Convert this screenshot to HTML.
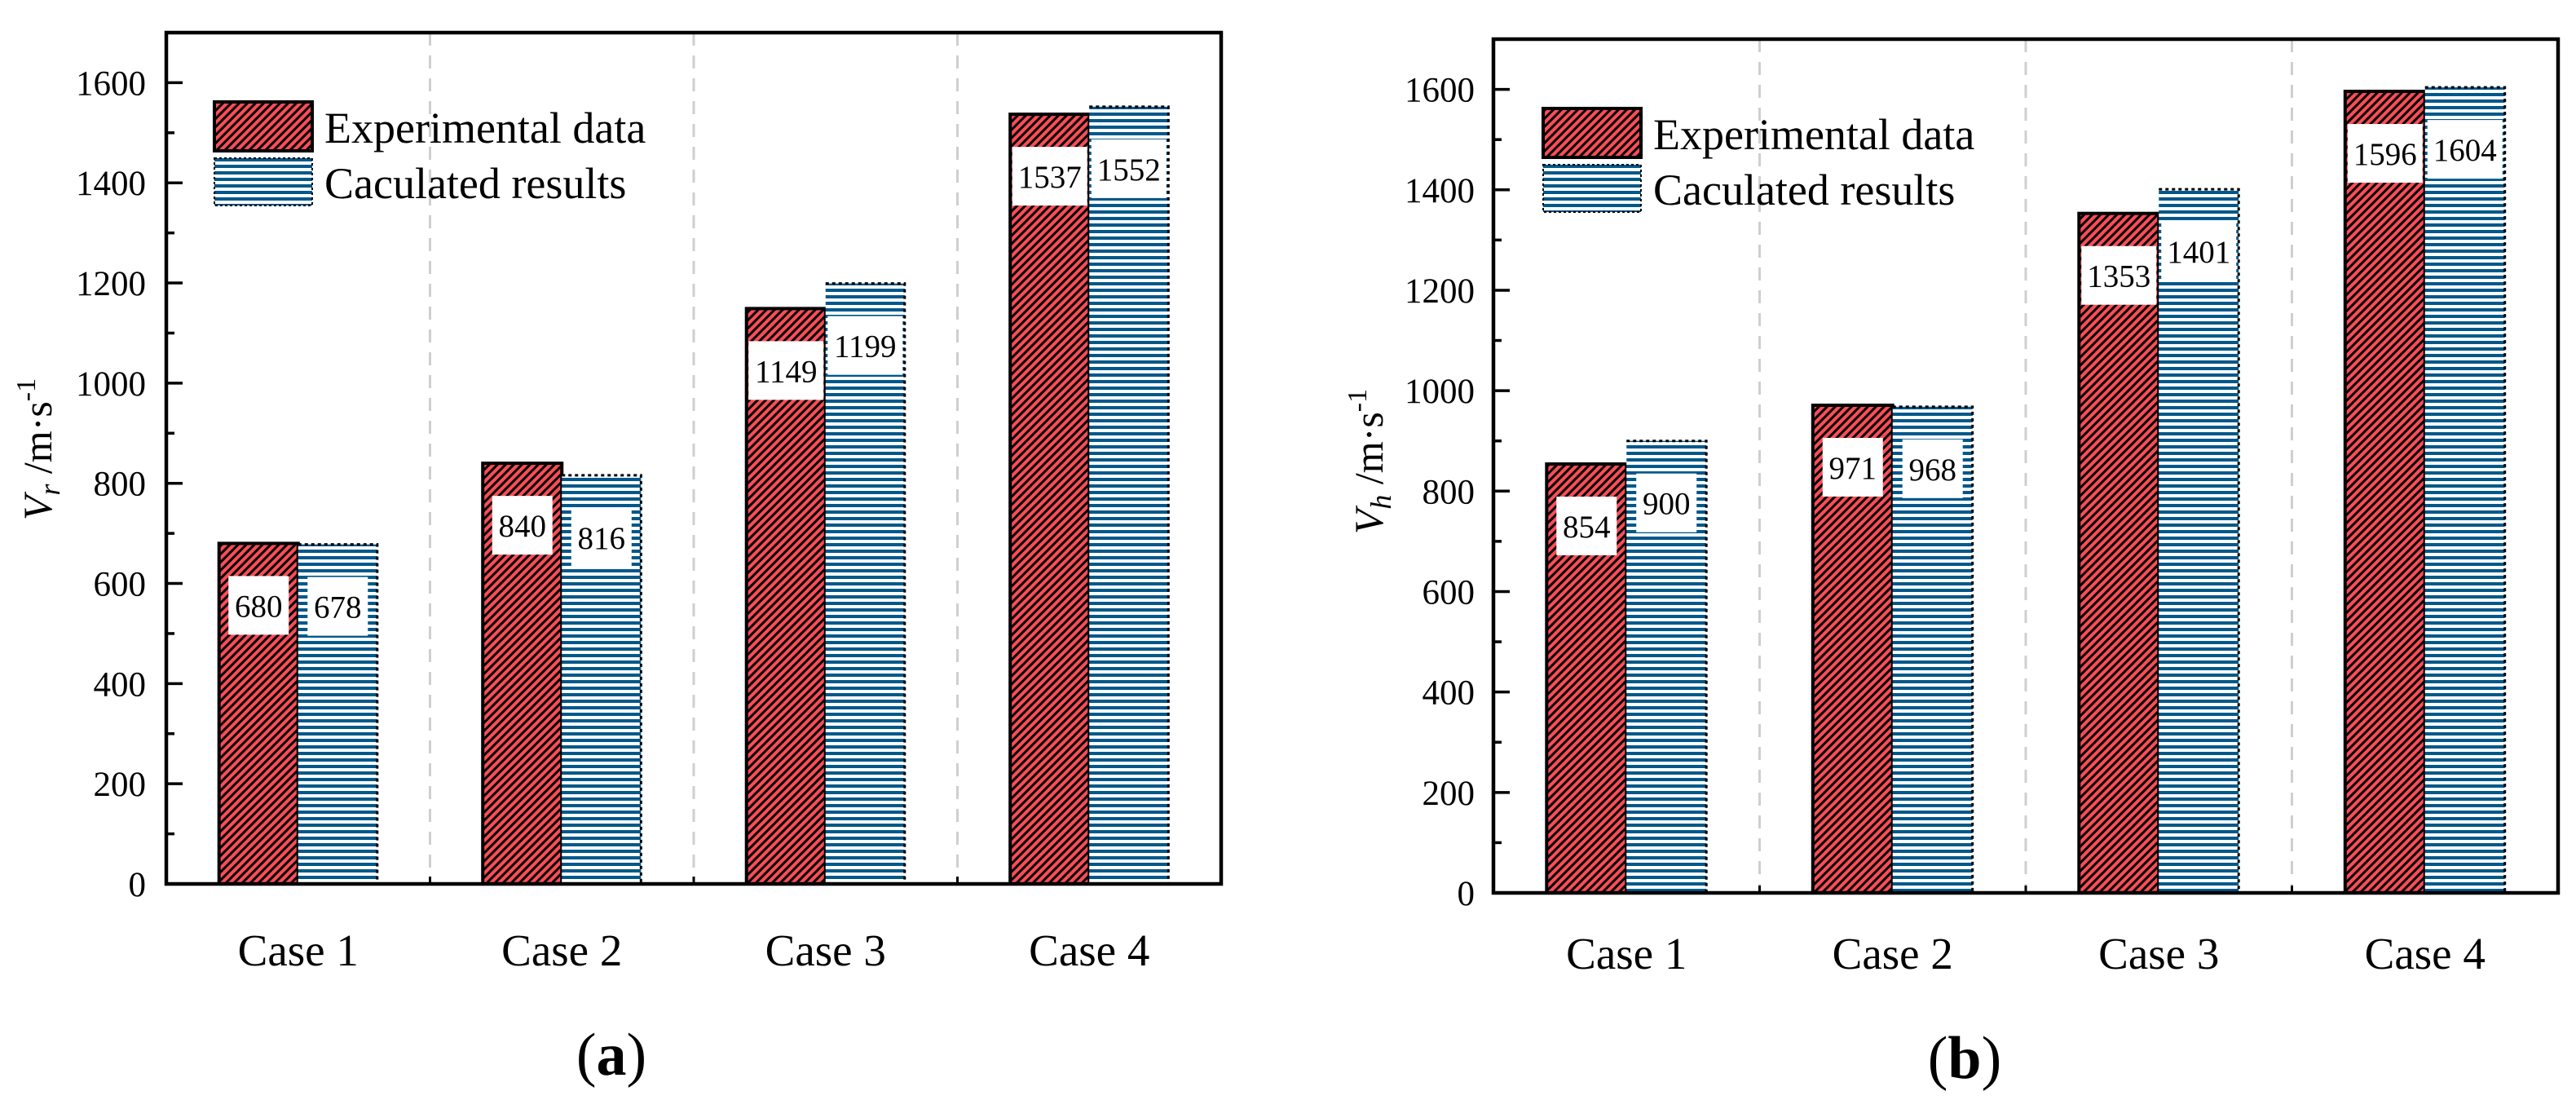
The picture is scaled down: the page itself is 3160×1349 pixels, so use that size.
<!DOCTYPE html>
<html><head><meta charset="utf-8"><style>
html,body{margin:0;padding:0;background:#fff;}
svg{display:block;font-family:"Liberation Serif",serif;}
</style></head><body>
<svg id="chart" width="3160" height="1349" viewBox="0 0 3160 1349" xmlns="http://www.w3.org/2000/svg">
<defs>
<pattern id="hatchRed" patternUnits="userSpaceOnUse" width="10" height="10">
<rect width="10" height="10" fill="#fa4d57"/>
<path d="M-2,2 L2,-2 M0,10 L10,0 M8,12 L12,8" stroke="#000" stroke-width="3"/>
</pattern>
<pattern id="stripeBlue" patternUnits="userSpaceOnUse" width="10" height="8">
<rect width="10" height="8" fill="#fff"/>
<rect y="2" width="10" height="4" fill="#00588a"/>
</pattern>
</defs>
<g id="root"></g>
</svg>
<script>
const categories = ["Case 1","Case 2","Case 3","Case 4"];
const expA = [680, 840, 1149, 1537];
const calA = [678, 816, 1199, 1552];
const expB = [854, 971, 1353, 1596];
const calB = [900, 968, 1401, 1604];
const yTicks = [0,200,400,600,800,1000,1200,1400,1600];
const yMax = 1700;

const NS = "http://www.w3.org/2000/svg";
const root = document.getElementById('root');
function mk(tag, attrs, parent){
  const e = document.createElementNS(NS, tag);
  for (const k in attrs) e.setAttribute(k, attrs[k]);
  (parent||root).appendChild(e);
  return e;
}

const panels = [
  {id:'a', x0:204, x1:1498, yTop:40, yBase:1084, exp:expA, cal:calA, sub:'r', titleX:47, titleY:551, tickRight:179, legX:263, legY:125, capY:1184, letter:'a', letterX:750, letterY:1318},
  {id:'b', x0:1832, x1:3138, yTop:48, yBase:1095, exp:expB, cal:calB, sub:'h', titleX:1680, titleY:566, tickRight:1809, legX:1893, legY:133, capY:1188, letter:'b', letterX:2410, letterY:1322}
];

panels.forEach(p => {
  const g = mk('g', {});
  
  
  const y = v => p.yBase - (v / yMax) * (p.yBase - p.yTop);
  const catW = (p.x1 - p.x0) / categories.length;
  const cx = i => p.x0 + catW * (i + 0.5);
  const barW = catW * 0.3;

  // separators
  for (let i = 1; i < categories.length; i++) {
    const sx = p.x0 + catW * i;
    const l = mk('line', {x1:sx, x2:sx, y1:p.yTop, y2:p.yBase, stroke:'#cfcfcf', 'stroke-width':3, 'stroke-dasharray':'16 12'}, g);
    
    
    const t = mk('line', {x1:sx, x2:sx, y1:p.yBase, y2:p.yBase-9, stroke:'#000', 'stroke-width':3}, g);
    
    
  }

  // bars
  categories.forEach((c, i) => {
    const ex = cx(i) - barW, ev = p.exp[i];
    const r1 = mk('rect', {x:ex, y:y(ev), width:barW, height:p.yBase - y(ev), fill:'url(#hatchRed)', stroke:'#000', 'stroke-width':4}, g);
    
    
    const cv = p.cal[i];
    const r2 = mk('rect', {x:cx(i), y:y(cv), width:barW, height:p.yBase - y(cv), fill:'url(#stripeBlue)'}, g);
    
    
    const d = mk('path', {d:`M${cx(i)},${y(cv)} H${cx(i)+barW} V${p.yBase}`, fill:'none', stroke:'#000', 'stroke-width':3, 'stroke-dasharray':'4 4'}, g);
    
    

    // value labels
    [[ex, ev], [cx(i), cv]].forEach(([bx, v], k) => {
      const s = String(v);
      const bw = s.length > 3 ? 92 : 74;
      const by = y(v) + 40;
      const lx = bx + barW/2;
      const box = mk('rect', {x:lx - bw/2, y:by, width:bw, height:72, fill:'#fff'}, g);
      
      
      const t = mk('text', {x:lx, y:by + 50, 'text-anchor':'middle', 'font-size':39, fill:'#000'}, g);
      t.textContent = s;
      
      
    });

    const ct = mk('text', {x:cx(i), y:p.capY, 'text-anchor':'middle', 'font-size':55, fill:'#000'}, g);
    ct.textContent = c;
    
    
  });

  // frame
  const fr = mk('rect', {x:p.x0, y:p.yTop, width:p.x1-p.x0, height:p.yBase-p.yTop, fill:'none', stroke:'#000', 'stroke-width':4.5}, g);
  
  

  // y ticks
  yTicks.forEach(v => {
    const tl = mk('line', {x1:p.x0, x2:p.x0+20, y1:y(v), y2:y(v), stroke:'#000', 'stroke-width':3.5}, g);
    
    
    const tx = mk('text', {x:p.tickRight, y:y(v)+15, 'text-anchor':'end', 'font-size':43, fill:'#000'}, g);
    tx.textContent = v;
    
    
    if (v + 100 < yMax) {
      const mn = mk('line', {x1:p.x0, x2:p.x0+10, y1:y(v+100), y2:y(v+100), stroke:'#000', 'stroke-width':3.5}, g);
      
      
    }
  });

  // y title
  const yt = mk('text', {x:p.titleX, y:p.titleY, 'text-anchor':'middle', 'font-size':50, fill:'#000', transform:`rotate(-90 ${p.titleX} ${p.titleY})`, dy:16}, g);
  
  
  yt.innerHTML = `<tspan font-style="italic">V</tspan><tspan font-style="italic" font-size="36" dy="10">${p.sub}</tspan><tspan dy="-10"> /m·s</tspan><tspan font-size="34" dy="-20">-1</tspan>`;

  // legend
  const lr = mk('rect', {x:p.legX, y:p.legY, width:120, height:60, fill:'url(#hatchRed)', stroke:'#000', 'stroke-width':4}, g);
  
  
  const lb = mk('rect', {x:p.legX, y:p.legY+69, width:120, height:58, fill:'url(#stripeBlue)', stroke:'#000', 'stroke-width':2, 'stroke-dasharray':'3 3'}, g);
  
  
  const l1 = mk('text', {x:p.legX+135, y:p.legY+50, 'font-size':54, fill:'#000'}, g);
  l1.textContent = 'Experimental data';
  
  
  const l2 = mk('text', {x:p.legX+135, y:p.legY+118, 'font-size':54, fill:'#000'}, g);
  l2.textContent = 'Caculated results';
  
  

  // panel letter
  const pl = mk('text', {x:p.letterX, y:p.letterY, 'text-anchor':'middle', 'font-size':74, fill:'#000'}, g);
  pl.innerHTML = `(<tspan font-weight="bold">${p.letter}</tspan>)`;
  
  
});
</script>
</body></html>
